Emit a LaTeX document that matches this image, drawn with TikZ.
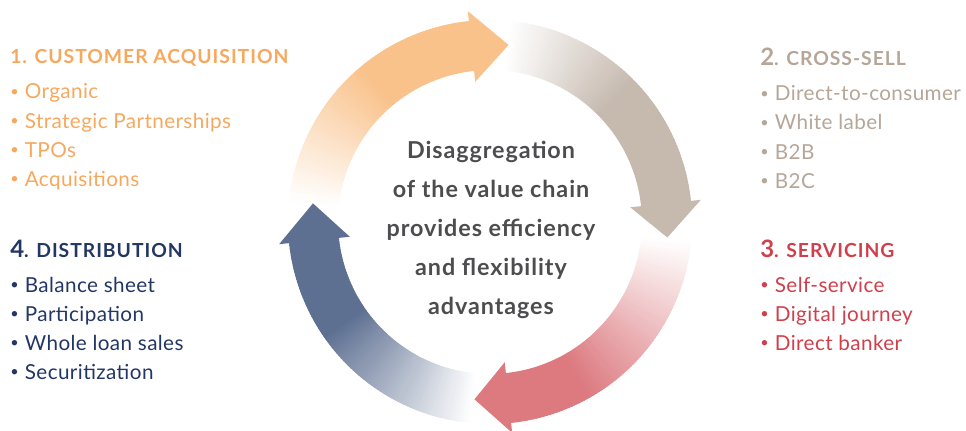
\documentclass[tikz,border=0pt]{standalone}
\usepackage{fontspec}
\setmainfont{Lato}

\definecolor{acqarrow}{HTML}{F9C28B}
\definecolor{acqtext}{HTML}{F7A85F}
\definecolor{crossarrow}{HTML}{C6BAAF}
\definecolor{crosstext}{HTML}{B5A698}
\definecolor{servarrow}{HTML}{DC7A80}
\definecolor{servtext}{HTML}{D0404C}
\definecolor{distarrow}{HTML}{5E7092}
\definecolor{disttext}{HTML}{233764}
\definecolor{hubgray}{HTML}{4D4D4F}

\tikzset{
  headtxt/.style={anchor=base west, inner sep=0pt,
    font=\fontsize{14.5}{16}\selectfont\bfseries\addfontfeatures{LetterSpace=5}},
  itemtxt/.style={anchor=base west, inner sep=0pt,
    font=\fontsize{15.5}{17}\selectfont\addfontfeatures{LetterSpace=2}},
  hubtxt/.style={anchor=base, inner sep=0pt, text=hubgray,
    font=\fontsize{17.5}{19}\selectfont\bfseries\addfontfeatures{LetterSpace=4}}
}

% small list bullet
\newcommand{\dotitem}{\raisebox{0.1em}{\scalebox{0.7}{•}}\hspace{0.3em}}

% ring segment fading to white at its tail
% #1 colour, #2 tail angle, #3 head base angle, #4 white at, #5 full at
\newcommand{\ringbody}[5]{%
  \foreach \k in {0,...,89}{
    \pgfmathsetmacro\angA{#2+(#3-#2)*\k/90}
    \pgfmathsetmacro\angB{#2+(#3-#2)*(\k+1.6)/90}
    \pgfmathtruncatemacro\pc{max(0,min(100,100*(\angA-#4)/(#5-#4)))}
    \fill[#1!\pc!white] (\angA:152) arc[start angle=\angA, end angle=\angB, radius=152]
      -- (\angB:202) arc[start angle=\angB, end angle=\angA, radius=202] -- cycle;
  }
}
% arrow head: #1 colour, #2 base angle, #3 tip angle
\newcommand{\ringhead}[3]{%
  \draw[white, line width=7.5pt, line join=round] (#2:141) -- (#3:178) -- (#2:212);
  \fill[#1] (#2:141) -- (#3:178) -- (#2:212) -- cycle;
}

\begin{document}
\begin{tikzpicture}[x=0.75pt, y=-0.75pt]

\useasboundingbox (0,0) rectangle (966,431);

% Cycle of four arrows
\begin{scope}[shift={(490,222)}, y=0.75pt]
\ringbody{acqarrow}{183}{96}{175}{130}
\ringbody{crossarrow}{93}{6}{85}{45}
\ringbody{servarrow}{3}{-84}{-5}{-60}
\ringbody{distarrow}{-87}{-174}{-95}{-145}
\ringhead{acqarrow}{96}{84}
\ringhead{crossarrow}{6}{-5}
\ringhead{servarrow}{-84}{-95}
\ringhead{distarrow}{-174}{-186}
\end{scope}

% Centre text
\foreach \t [count=\i] in {Disaggregation, of the value chain, provides efficiency,
    and flexibility, advantages}
  \node[hubtxt] (hub\i) at (491, 119+39*\i) {\t};

% 1. Customer acquisition
\node[headtxt, text=acqtext] (acq) at (10,64) {1. CUSTOMER ACQUISITION};
\foreach \t [count=\i] in {Organic, Strategic Partnerships, TPOs, Acquisitions}
  \node[itemtxt, text=acqtext] (acq\i) at (10, 70+29*\i) {\dotitem\t};

% 2. Cross-sell
\node[headtxt, text=crosstext] (cross) at (760,66)
  {{\fontsize{18}{16}\selectfont 2}. CROSS-SELL};
\foreach \t [count=\i] in {Direct-to-consumer, White label, B2B, B2C}
  \node[itemtxt, text=crosstext] (cross\i) at (760, 72+29*\i) {\dotitem\t};

% 3. Servicing
\node[headtxt, text=servtext] (serv) at (760,257)
  {{\fontsize{18}{16}\selectfont 3}. SERVICING};
\foreach \t [count=\i] in {Self-service, Digital journey, Direct banker}
  \node[itemtxt, text=servtext] (serv\i) at (760, 263+29*\i) {\dotitem\t};

% 4. Distribution
\node[headtxt, text=disttext] (dist) at (10,257)
  {{\fontsize{18}{16}\selectfont 4}. DISTRIBUTION};
\foreach \t [count=\i] in {Balance sheet, Participation, Whole loan sales, Securitization}
  \node[itemtxt, text=disttext] (dist\i) at (10, 263+29*\i) {\dotitem\t};

\end{tikzpicture}
\end{document}
